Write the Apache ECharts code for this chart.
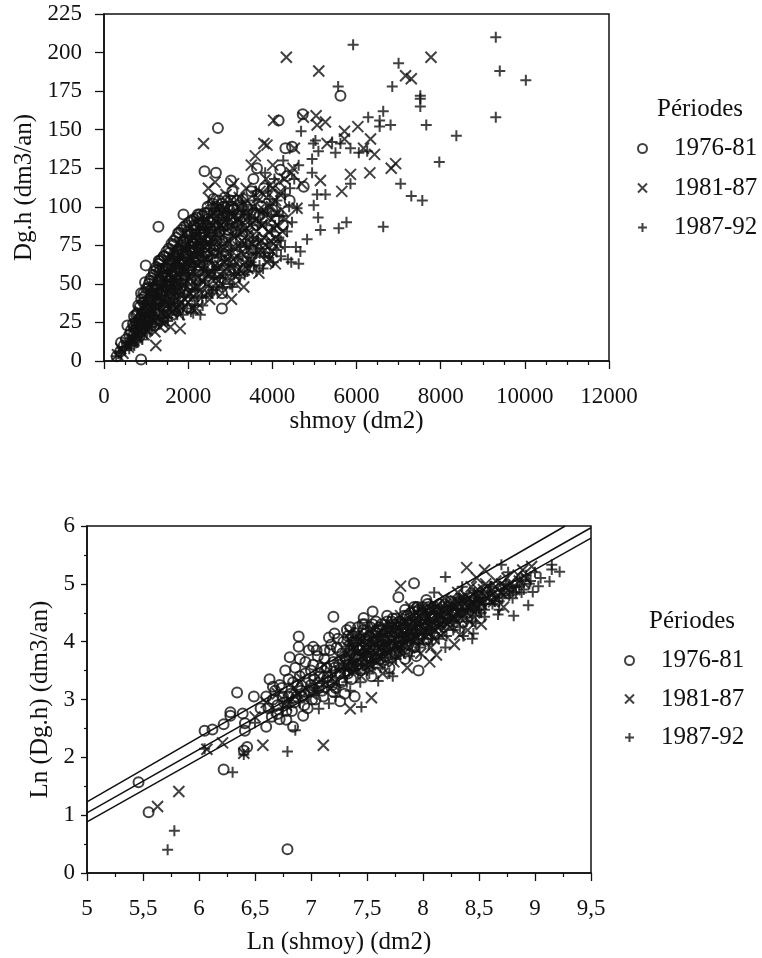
<!DOCTYPE html>
<html><head><meta charset="utf-8">
<style>html,body{margin:0;padding:0;background:#fff}#c{width:762px;height:958px}</style>
<script src="https://cdn.jsdelivr.net/npm/echarts@6/dist/echarts.min.js"></script></head>
<body><div id="c"></div>
<script>
const periods = ['1976-81','1981-87','1987-92'];
const top76 = [[881,1],[300,3],[380,6],[405,12],[470,10],[520,14],[555,23],[600,17],[640,20],[714,29],[700,22],[760,25],[790,31],[830,27],[881,44],[850,35],[900,30],[940,38],[976,51],[960,42],[992,62],[1010,33],[1040,47],[1060,40],[1090,52],[1120,36],[1150,44],[1180,56],[1238,59],[1210,48],[1250,39],[1293,87],[1300,65],[1333,65],[1340,52],[1370,45],[1400,60],[1430,68],[1460,55],[1500,48],[1548,70],[1530,62],[1570,41],[1600,58],[1640,75],[1680,66],[1720,52],[1762,83],[1750,60],[1790,72],[1820,47],[1850,64],[1888,95],[1880,78],[1920,56],[1950,70],[1990,84],[2020,62],[2060,50],[2100,76],[2140,88],[2180,68],[2230,95],[2270,95],[2250,58],[2300,80],[2388,123],[2350,90],[2400,70],[2450,96],[2500,62],[2550,84],[2660,122],[2600,105],[2707,151],[2650,75],[2802,34],[2802,44],[2750,92],[2850,100],[3017,117],[2900,68],[2950,85],[3050,110],[3100,60],[3150,95],[3250,78],[3357,60],[3300,105],[3400,88],[3550,118],[3635,125],[3500,72],[3700,95],[3800,112],[3900,70],[4000,98],[4190,124],[4150,156],[4310,138],[4469,139],[4412,104],[4722,160],[4746,113],[5619,172],[4350,120],[4250,88]];
const top76b = [[690,24],[715,18],[762,30],[748,20],[815,36],[830,24],[842,16],[885,40],[872,28],[938,44],[950,32],[930,22],[1004,47],[990,36],[1012,25],[1065,50],[1052,39],[1070,28],[1118,54],[1130,42],[1110,31],[1184,58],[1172,46],[1190,34],[1243,61],[1235,49],[1250,37],[1302,63],[1295,52],[1310,40],[1288,30],[1364,66],[1352,55],[1370,43],[1417,68],[1425,58],[1410,46],[1432,36],[1484,71],[1476,60],[1490,49],[1538,73],[1546,63],[1530,52],[1552,40],[1603,76],[1595,66],[1610,55],[1590,44],[1662,78],[1655,69],[1670,58],[1718,80],[1727,71],[1712,61],[1730,47],[1785,83],[1775,73],[1792,63],[1770,50],[1836,85],[1845,75],[1830,66],[1850,53],[1905,87],[1895,77],[1912,68],[1890,56],[1958,88],[1967,79],[1950,70],[1972,58],[2024,90],[2014,81],[2030,72],[2010,60],[2083,91],[2075,83],[2090,74],[2070,62],[2138,92],[2147,85],[2130,76],[2152,64],[2205,93],[2196,86],[2212,78],[2190,66],[2262,90],[2270,82],[2255,72],[2277,62],[2330,94],[2320,86],[2338,76],[2316,68],[2395,96],[2385,84],[2402,74],[2462,100],[2452,88],[2470,78],[2448,68],[2525,98],[2515,90],[2532,80],[2590,102],[2600,92],[2582,82],[2606,72],[2662,100],[2652,88],[2670,78],[2730,104],[2722,94],[2738,84],[2800,102],[2792,90],[2808,78],[2870,106],[2862,94],[2935,100],[2928,88],[3010,104],[3002,92],[3080,98],[3160,104],[3230,92]];
const top76c = [[900,24],[960,28],[1020,34],[1080,26],[1130,46],[1190,42],[1260,44],[1320,58],[1380,50],[1440,54],[1510,56],[1570,52],[1630,62],[1690,50],[1750,68],[1810,60],[1870,70],[1930,74],[1990,66],[2050,78],[2110,70],[2170,82],[2230,74],[2290,88],[2350,82],[2410,78],[2470,92],[2540,86],[2610,96],[2680,94],[2760,98],[2830,88],[2900,96],[2980,98],[3060,100],[3130,84],[3200,94],[3270,100],[3340,92],[3420,98],[3500,110],[3570,96],[3650,108],[3730,100]];
const top81 = [[320,4],[400,8],[450,5],[520,11],[580,9],[620,15],[680,13],[730,19],[780,16],[820,24],[870,20],[910,28],[950,17],[1000,32],[1030,23],[1080,37],[1120,28],[1170,43],[1210,19],[1231,10],[1260,34],[1310,48],[1350,26],[1400,40],[1450,54],[1480,31],[1530,46],[1580,22],[1620,60],[1660,36],[1700,51],[1750,66],[1810,21],[1790,30],[1850,44],[1900,58],[1950,72],[2000,38],[2050,53],[2100,65],[2150,80],[2200,34],[2250,48],[2300,60],[2365,141],[2370,74],[2420,90],[2470,44],[2480,112],[2520,105],[2560,58],[2600,70],[2640,116],[2700,85],[2720,98],[2780,50],[2850,64],[2900,108],[2950,78],[3000,92],[3030,40],[3080,115],[3120,55],[3160,86],[3200,100],[3260,70],[3320,48],[3380,112],[3420,60],[3470,95],[3500,127],[3540,76],[3595,133],[3650,106],[3680,57],[3750,88],[3800,141],[3850,118],[3873,140],[3920,66],[3980,100],[4010,127],[4071,63],[3992,71],[4080,80],[4333,197],[5103,188],[7770,197],[7167,185],[7302,183],[5040,159],[4738,158],[5262,155],[5064,153],[6032,152],[5714,149],[5714,144],[4031,156],[6333,144],[5302,141],[4524,138],[6167,138],[6429,134],[6929,128],[6825,125],[6317,122],[5857,121],[5143,117],[5650,110],[4492,125],[4200,110],[4320,92],[4450,122],[4587,99],[4700,115]];
const top81b = [[650,12],[700,14],[730,24],[770,18],[800,28],[840,20],[860,32],[905,22],[925,36],[970,26],[985,40],[1025,20],[1045,30],[1075,44],[1100,24],[1125,34],[1145,48],[1190,26],[1205,38],[1225,52],[1270,28],[1285,42],[1300,56],[1330,22],[1355,32],[1375,46],[1395,60],[1435,26],[1455,38],[1470,50],[1500,64],[1525,30],[1545,42],[1565,56],[1585,68],[1620,32],[1640,46],[1660,60],[1690,72],[1720,34],[1740,50],[1765,64],[1800,76],[1815,38],[1840,54],[1865,68],[1885,82],[1920,40],[1945,58],[1965,74],[1985,87],[2030,44],[2055,62],[2075,78],[2110,34],[2125,48],[2150,68],[2175,84],[2205,38],[2230,54],[2250,72],[2280,88],[2310,44],[2340,60],[2360,78],[2400,92],[2430,50],[2450,66],[2475,84],[2510,40],[2535,56],[2555,74],[2580,96],[2620,46],[2640,62],[2665,82],[2690,100],[2725,52],[2750,70],[2775,88],[2810,44],[2835,58],[2860,76],[2885,98],[2920,52],[2945,66],[2970,86],[3010,104],[3040,60],[3065,74],[3095,94],[3130,50],[3155,68],[3185,84],[3215,106],[3250,58],[3280,78],[3310,96],[3345,64],[3375,86],[3405,104],[3445,72],[3475,88],[3515,64],[3545,100],[3585,80],[3625,92],[3665,70],[3705,110],[3745,78],[3785,98],[3825,72],[3865,106],[3905,84],[3945,114],[3985,92],[4030,76],[4075,104],[4120,88],[4170,116],[4220,98]];
const top81c = [[1420,24],[1480,38],[1540,34],[1590,50],[1640,38],[1700,44],[1710,66],[1760,56],[1780,40],[1830,62],[1860,34],[1910,50],[1960,64],[1990,42],[2040,68],[2080,56],[2130,42],[2160,76],[2210,48],[2240,62],[2290,70],[2330,52],[2370,84],[2410,60],[2440,76],[2490,56],[2520,70],[2560,88],[2600,52],[2640,68],[2680,58],[2710,78],[2750,62],[2790,96],[2840,72],[2870,86],[2900,60],[2930,76],[2980,70],[3030,88],[3070,66],[3110,80],[3150,58],[3190,74],[3220,92],[3270,84],[3310,62],[3350,76],[3390,96],[3430,82],[3470,64],[3510,76],[3540,90],[3590,70],[3630,84],[3680,98],[3720,72],[3760,88],[3800,80],[3840,94],[3880,64],[3920,100],[3960,78],[4000,112],[4040,86],[4090,96],[4140,76],[4190,108],[4240,84],[4290,118]];
const top87 = [[290,3],[360,5],[430,9],[500,7],[570,12],[640,10],[700,16],[760,14],[830,21],[880,18],[940,25],[1000,22],[1060,30],[1110,26],[1170,34],[1230,29],[1290,40],[1340,24],[1400,35],[1470,45],[1520,28],[1570,38],[1640,52],[1700,32],[1760,44],[1830,57],[1880,36],[1940,49],[2010,63],[2060,42],[2120,31],[2170,56],[2240,70],[2290,30],[2330,41],[2400,52],[2460,66],[2520,78],[2580,46],[2640,59],[2700,72],[2760,86],[2830,54],[2880,66],[2940,96],[3000,80],[3050,48],[3110,62],[3170,90],[3230,74],[3290,104],[3340,56],[3400,84],[3440,70],[3500,98],[3560,62],[3610,110],[3660,78],[3620,58],[3720,90],[3780,60],[3830,122],[3880,76],[3940,105],[3990,84],[4050,118],[4100,72],[4160,94],[4200,78],[4260,130],[4300,108],[4350,84],[4400,100],[4450,64],[4520,118],[4560,74],[9310,210],[5920,205],[9405,188],[10024,182],[7000,193],[6850,178],[5564,178],[7516,172],[7516,170],[7516,165],[9310,158],[6635,162],[6278,158],[6550,156],[6550,152],[6810,153],[7658,153],[8373,146],[4683,149],[7968,129],[7048,115],[7302,107],[7564,104],[6635,87],[5762,90],[5579,86],[5143,85],[5088,93],[4826,79],[4984,101],[5857,115],[5064,108],[5262,108],[4945,131],[4945,122],[5500,135],[5095,136],[4976,141],[5024,143],[5857,138],[6055,135],[6254,136],[5619,141],[5421,142],[4626,127],[4587,99],[4468,90],[4626,63],[4667,71]];
const top87b = [[600,8],[660,12],[720,10],[770,20],[800,12],[860,16],[910,14],[960,20],[1020,18],[1030,26],[1085,20],[1095,34],[1140,22],[1150,30],[1205,24],[1215,36],[1265,26],[1275,44],[1320,30],[1330,38],[1385,28],[1395,50],[1440,32],[1450,42],[1510,26],[1510,36],[1550,48],[1600,30],[1610,40],[1620,60],[1670,34],[1680,46],[1690,56],[1740,30],[1750,38],[1770,62],[1800,34],[1820,48],[1840,72],[1880,30],[1895,42],[1915,62],[1970,34],[1985,46],[2000,54],[2035,74],[2065,32],[2095,50],[2115,68],[2150,36],[2170,46],[2195,80],[2225,42],[2255,64],[2285,52],[2300,76],[2345,36],[2365,56],[2385,68],[2430,42],[2455,58],[2490,48],[2505,84],[2555,44],[2575,64],[2610,54],[2625,76],[2670,48],[2695,62],[2725,90],[2755,54],[2790,68],[2820,48],[2845,82],[2890,56],[2915,92],[2955,62],[2985,50],[3020,72],[3060,96],[3090,56],[3140,82],[3175,66],[3215,54],[3260,88],[3295,68],[3330,100],[3370,76],[3410,58],[3455,92],[3495,64],[3535,80],[3575,104],[3615,70],[3655,88],[3695,62],[3735,76],[3775,96],[3815,68],[3855,88],[3895,110],[3935,70],[3975,94],[4020,64],[4065,88],[4110,104],[4155,80],[4205,68],[4250,94],[4300,74],[4370,66],[4420,112]];
const bot76 = [[5.46,1.57],[5.55,1.05],[6.79,0.41],[6.22,1.79],[6.43,2.18],[6.4,2.12],[6.05,2.46],[6.12,2.48],[6.22,2.57],[6.28,2.78],[6.28,2.72],[6.34,3.12],[6.41,2.46],[6.41,2.59],[6.39,2.76],[6.49,3.05],[6.6,2.53],[6.63,3.35],[6.72,2.66],[6.78,2.65],[6.84,2.53],[6.89,4.09],[6.89,3.91],[6.77,3.5],[6.81,3.73],[6.93,2.72],[7.2,4.43],[7.21,4.14],[7.16,4.07],[7.02,3.91],[7.26,2.97],[7.39,3.05],[7.2,3.13],[7.47,4.41],[7.55,4.52],[7.92,5.01],[7.78,4.77],[7.96,3.5],[7.94,3.75],[8.03,4.72],[6.55,2.85],[6.6,3.05],[6.65,2.7],[6.68,3.15],[6.7,2.9],[6.72,3.25],[6.75,3.05],[6.78,2.8],[6.8,3.35],[6.82,3.1],[6.85,2.95],[6.86,3.55],[6.88,3.25],[6.9,3.7],[6.92,3.05],[6.95,3.45],[6.97,2.85],[6.98,3.85],[7,3.25],[7.02,3.6],[7.04,3.0],[7.06,3.75],[7.08,3.4],[7.1,3.15],[7.12,3.85],[7.14,3.55],[7.16,3.3],[7.18,3.95],[7.2,3.65],[7.22,3.2],[7.24,4.05],[7.26,3.45],[7.28,3.8],[7.3,3.1],[7.32,4.2],[7.34,3.6],[7.36,3.35],[7.38,4.0],[7.4,3.75],[7.42,4.25],[7.44,3.5],[7.46,3.9],[7.48,4.3],[7.5,3.65],[7.52,4.1],[7.54,3.4],[7.56,3.85],[7.58,4.35],[7.6,4.0],[7.62,3.7],[7.64,4.2],[7.66,3.9],[7.68,4.45],[7.7,3.55],[7.72,4.1],[7.74,4.3],[7.76,3.8],[7.8,4.0],[7.82,4.25],[7.84,3.7],[7.86,4.45],[7.88,4.1],[7.9,4.3],[7.92,3.9],[7.95,4.6],[7.98,4.2],[8,4.4],[8.03,4.05],[8.06,4.55],[8.1,4.3],[8.15,4.65],[8.2,4.4],[8.25,4.7]];
const bot76b = [[6.62,2.85],[6.66,3.0],[6.66,3.22],[6.7,2.75],[6.74,3.2],[6.76,2.95],[6.8,3.05],[6.83,2.8],[6.84,3.3],[6.87,3.05],[6.9,3.4],[6.91,3.15],[6.94,2.9],[6.95,3.65],[6.98,3.15],[7,3.5],[7.01,3.0],[7.03,3.35],[7.05,3.85],[7.07,3.2],[7.09,3.55],[7.11,3.05],[7.12,3.7],[7.15,3.4],[7.17,3.85],[7.19,3.25],[7.21,3.55],[7.23,3.9],[7.25,3.6],[7.27,3.3],[7.29,4.0],[7.31,3.7],[7.33,3.45],[7.33,4.1],[7.35,3.85],[7.37,3.55],[7.39,4.15],[7.41,3.9],[7.41,3.6],[7.43,4.05],[7.45,3.7],[7.47,4.2],[7.49,3.95],[7.51,3.75],[7.53,4.25],[7.55,4.0],[7.57,3.7],[7.59,4.2],[7.61,3.85],[7.63,4.3],[7.65,4.05],[7.67,3.75],[7.69,4.25],[7.71,3.95],[7.73,4.4],[7.75,4.15],[7.77,3.9],[7.79,4.35],[7.81,4.15],[7.83,4.45],[7.85,4.2],[7.87,3.95],[7.89,4.5],[7.91,4.2],[7.93,4.4],[7.97,4.05],[7.99,4.5],[8.02,4.3],[8.05,4.6],[8.08,4.4],[8.12,4.55],[8.17,4.35],[8.22,4.6],[8.28,4.5]];
const bot76c = [[7.35,4.25],[7.37,4.1],[7.4,4.0],[7.43,3.85],[7.46,4.3],[7.49,4.05],[7.52,3.9],[7.55,4.3],[7.58,4.15],[7.61,4.25],[7.64,3.95],[7.68,4.35],[7.72,4.35],[7.76,4.4],[7.8,4.3],[7.84,4.55],[7.88,4.4],[7.92,4.6],[7.96,4.55],[8,4.6],[8.04,4.65],[8.1,4.6]];
const bot81 = [[5.63,1.15],[5.82,1.41],[6.07,2.14],[6.21,2.25],[6.4,2.07],[6.57,2.21],[7.11,2.21],[7.35,2.84],[7.54,3.03],[8.39,5.28],[8.55,5.24],[7.8,4.96],[8.12,3.77],[8.06,3.65],[8.33,4.12],[8.63,4.69],[8.97,5.3],[8.89,5.24],[6.5,2.7],[6.6,2.95],[6.7,3.1],[6.78,2.9],[6.85,3.2],[6.92,3.35],[7,3.1],[7.06,3.4],[7.12,3.6],[7.18,3.2],[7.24,3.75],[7.28,3.45],[7.33,3.9],[7.37,3.6],[7.41,4.1],[7.45,3.4],[7.49,3.85],[7.52,3.6],[7.56,4.2],[7.6,3.75],[7.64,3.45],[7.67,4.05],[7.7,4.3],[7.74,3.65],[7.77,3.95],[7.8,4.45],[7.83,4.15],[7.86,3.55],[7.89,4.6],[7.92,4.0],[7.95,4.3],[7.98,3.8],[8.01,4.5],[8.04,4.15],[8.07,3.9],[8.1,4.65],[8.13,4.4],[8.16,4.1],[8.19,4.75],[8.22,4.3],[8.25,4.55],[8.28,3.95],[8.31,4.85],[8.34,4.4],[8.37,4.65],[8.4,4.2],[8.43,4.95],[8.46,4.5],[8.49,4.75],[8.52,4.3],[8.56,5],[8.6,4.7],[8.65,5.05],[8.7,4.85],[8.75,5.1],[8.8,4.9],[8.85,5.15],[8.9,5.02],[8.72,4.6],[8.48,5.1]];
const bot81b = [[7.3,3.55],[7.32,3.8],[7.34,4.05],[7.36,3.7],[7.38,3.9],[7.4,3.55],[7.42,4.0],[7.44,3.75],[7.46,4.1],[7.48,3.6],[7.5,3.95],[7.52,4.2],[7.54,3.7],[7.56,4.0],[7.58,3.8],[7.6,4.15],[7.62,3.9],[7.64,4.05],[7.66,3.75],[7.68,4.2],[7.7,3.85],[7.72,4.0],[7.74,4.15],[7.76,3.95],[7.78,4.25],[7.8,3.8],[7.82,4.05],[7.84,4.35],[7.86,4.1],[7.88,3.9],[7.9,4.25],[7.92,4.45],[7.94,4.1],[7.96,4.35],[7.98,4.0],[8,4.2],[8.02,4.55],[8.04,4.4],[8.06,4.15],[8.08,4.35],[8.1,4.05],[8.12,4.6],[8.14,4.25],[8.16,4.45],[8.18,4.15],[8.2,4.65],[8.22,4.5],[8.24,4.25],[8.26,4.7],[8.28,4.4],[8.3,4.6],[8.32,4.3],[8.34,4.75],[8.36,4.5],[8.38,4.8],[8.4,4.6],[8.42,4.35],[8.44,4.7],[8.46,4.85],[8.48,4.55],[8.5,4.8],[8.52,4.65],[8.54,4.9],[8.58,4.75],[8.62,4.9],[8.66,4.75],[8.7,5.0],[8.74,4.85],[8.78,5.0],[8.82,4.9],[8.86,5.05],[8.92,5.1],[6.8,3.0],[6.88,3.1],[6.95,3.2],[7.02,3.3],[7.08,3.2],[7.14,3.45],[7.2,3.4],[7.26,3.6]];
const bot81c = [[7.31,3.6],[7.33,3.7],[7.35,4.15],[7.37,3.95],[7.39,3.6],[7.41,3.8],[7.43,3.6],[7.45,4.0],[7.47,3.75],[7.49,4.1],[7.51,3.85],[7.53,3.6],[7.55,3.85],[7.57,4.1],[7.59,3.65],[7.61,4.05],[7.63,3.75],[7.65,4.25],[7.67,3.95],[7.69,3.8],[7.71,4.2],[7.73,3.85],[7.75,4.05],[7.77,4.25],[7.79,3.9],[7.81,4.3],[7.83,3.95],[7.85,4.05],[7.87,4.3],[7.89,4.05],[7.91,4.35],[7.93,4.05],[7.95,4.2],[7.97,4.45],[7.99,4.15],[8.01,4.35],[8.03,4.1],[8.05,4.45],[8.07,4.25],[8.09,4.55],[8.11,4.2],[8.13,4.5],[8.15,4.3],[8.17,4.55],[8.19,4.35],[8.21,4.55],[8.23,4.35],[8.25,4.65],[8.27,4.45],[8.29,4.7],[8.31,4.5],[8.33,4.65],[8.35,4.45],[8.37,4.75],[8.39,4.5],[8.41,4.75],[8.43,4.6],[8.45,4.8],[8.47,4.6],[8.49,4.9],[8.51,4.7],[8.55,4.8],[8.57,4.95],[8.61,4.8],[8.65,4.95],[8.69,4.85],[8.73,4.95],[8.77,4.9]];
const bot87 = [[5.72,0.4],[5.78,0.73],[6.3,1.74],[6.79,2.1],[6.4,2.05],[6.86,2.47],[7.07,2.84],[7.16,2.93],[7.45,2.87],[7.6,3.32],[7.7,3.45],[7.73,3.4],[8.7,5.33],[8.2,5.12],[9.15,5.33],[9.22,5.21],[9.13,5.04],[9.03,4.96],[8.98,4.86],[8.94,4.63],[8.81,4.45],[8.67,4.47],[8.55,4.43],[8.47,4.32],[8.45,4.14],[8.44,4.05],[6.05,2.15],[6.5,2.6],[6.65,2.8],[6.9,2.95],[7.05,3.15],[7.15,3.3],[7.22,3.05],[7.3,3.4],[7.35,3.15],[7.4,3.6],[7.44,3.3],[7.48,3.8],[7.52,3.45],[7.56,3.65],[7.6,3.95],[7.64,3.6],[7.68,3.8],[7.72,4.15],[7.76,3.7],[7.8,3.9],[7.84,4.3],[7.88,3.75],[7.92,4.15],[7.96,3.95],[8,4.55],[8.04,4.3],[8.08,4.05],[8.12,4.5],[8.16,4.25],[8.2,3.9],[8.24,4.6],[8.28,4.35],[8.32,4.75],[8.36,4.1],[8.4,4.55],[8.44,4.35],[8.48,4.75],[8.52,4.5],[8.56,4.65],[8.6,4.95],[8.64,4.7],[8.68,4.55],[8.72,4.9],[8.76,5.2],[8.8,4.75],[8.84,5.05],[8.88,4.85],[8.92,5.15],[8.96,5.05],[9,5.2],[9.05,5.1],[9.15,5.25],[8.1,4.85],[7.95,4.6],[8.35,4.95]];
const bot87b = [[7.25,3.25],[7.29,3.55],[7.32,3.3],[7.36,3.5],[7.39,3.7],[7.42,3.45],[7.46,3.6],[7.5,3.5],[7.53,3.8],[7.55,3.55],[7.58,3.7],[7.62,3.55],[7.65,3.85],[7.69,3.65],[7.71,3.95],[7.75,3.75],[7.78,3.85],[7.81,4.0],[7.83,3.8],[7.86,4.0],[7.9,3.85],[7.94,4.2],[7.97,3.9],[8,4.05],[8.03,4.25],[8.05,3.95],[8.08,4.2],[8.11,4.35],[8.14,4.05],[8.18,4.3],[8.21,4.1],[8.24,4.4],[8.27,4.2],[8.3,4.45],[8.33,4.25],[8.36,4.55],[8.39,4.35],[8.42,4.5],[8.45,4.6],[8.47,4.45],[8.5,4.55],[8.53,4.75],[8.55,4.55],[8.58,4.85],[8.62,4.65],[8.64,4.8],[8.68,4.7],[8.71,4.75],[8.74,5],[8.77,4.8],[8.8,4.95],[8.83,4.85],[8.86,4.95],[8.9,4.9],[8.95,5],[6.75,2.85],[6.82,2.95],[6.9,3.05],[6.98,3.05],[7.03,3.2],[7.1,3.3],[7.18,3.4],[7.22,3.5],[7.34,3.95],[7.44,4.1],[7.54,4.1],[7.66,4.15],[7.76,4.25],[7.86,4.3],[7.96,4.5],[8.06,4.5],[8.16,4.6],[8.26,4.55],[8.36,4.75],[8.46,4.7]];
const bot87c = [[7.3,3.75],[7.34,3.5],[7.38,3.8],[7.42,3.85],[7.46,3.85],[7.5,3.75],[7.54,3.95],[7.58,4.0],[7.62,4.1],[7.66,3.95],[7.7,4.1],[7.74,4.0],[7.78,4.1],[7.82,4.15],[7.86,4.15],[7.9,4.1],[7.94,4.35],[7.98,4.3],[8.02,4.45],[8.06,4.35],[8.1,4.15],[8.14,4.4],[8.18,4.45],[8.22,4.4],[8.26,4.35],[8.3,4.55],[8.34,4.55],[8.38,4.65],[8.42,4.7],[8.46,4.85],[8.5,4.7],[8.54,4.65]];
const lineUpper = [[5,1.23],[9.27,6]];
const lineMiddle = [[5,1.04],[9.5,5.97]];
const lineLower = [[5,0.885],[9.5,5.79]];

const ink = '#111';
const font = 'Liberation Serif';
const crossPath = 'path://M0,0L11,11M11,0L0,11';
const plusPath = 'path://M5.5,0L5.5,11M0,5.5L11,5.5';
const stroke = {color:'transparent',borderColor:ink,borderWidth:2};
function scatter(name,data,symbol,size,idx){
  return {type:'scatter',name,data,symbol,symbolSize:size,xAxisIndex:idx,yAxisIndex:idx,itemStyle:stroke,silent:true,animation:false,large:false};
}
function rule(data){
  return {type:'line',data,xAxisIndex:1,yAxisIndex:1,showSymbol:false,silent:true,animation:false,lineStyle:{color:ink,width:1.5}};
}
function axis(o){
  const margin = o.margin, tl = o.tickLen || 8, fmt = o.fmt;
  delete o.margin; delete o.tickLen; delete o.fmt;
  return Object.assign({
    type:'value',nameLocation:'middle',
    nameTextStyle:{fontFamily:font,fontSize:25,color:ink},
    axisLine:{show:true,onZero:false,lineStyle:{color:ink,width:1.6}},
    axisTick:{show:true,length:tl,lineStyle:{color:ink,width:1.3}},
    axisLabel:{fontFamily:font,fontSize:23,color:ink,margin,formatter:fmt,showMinLabel:true,showMaxLabel:true},
    splitLine:{show:false}
  },o);
}
function minor(n,len){return {show:true,splitNumber:n,length:len,lineStyle:{color:ink,width:1.2}};}
const comma = v => String(v).replace('.',',');
const plain = v => String(v);
function legend(left,top,gap){
  return {left,top,orient:'vertical',itemGap:gap,itemWidth:9,itemHeight:9,selectedMode:false,
    textStyle:{fontFamily:font,fontSize:25,color:ink,padding:[0,0,0,22],lineHeight:25},
    data:[{name:periods[0],icon:'circle'},{name:periods[1],icon:crossPath},{name:periods[2],icon:plusPath}]};
}
const chart = echarts.init(document.getElementById('c'),null,{renderer:'canvas'});
chart.setOption({
  backgroundColor:'#fff',animation:false,
  title:[
    {text:'Périodes',left:652,top:92,textStyle:{fontFamily:font,fontSize:25,fontWeight:'normal',color:ink}},
    {text:'Périodes',left:644,top:604,textStyle:{fontFamily:font,fontSize:25,fontWeight:'normal',color:ink}}
  ],
  legend:[legend(632,131,14.5),legend(619,643,13.5)],
  grid:[
    {left:104,top:14,width:505,height:347,show:true,borderColor:ink,borderWidth:1.5,backgroundColor:'transparent'},
    {left:87,top:526,width:504,height:347,show:true,borderColor:ink,borderWidth:1.5,backgroundColor:'transparent'}
  ],
  xAxis:[
    axis({gridIndex:0,min:0,max:12000,interval:2000,name:'shmoy (dm2)',nameGap:47,margin:24,fmt:plain,minorTick:minor(4,4)}),
    axis({gridIndex:1,min:5,max:9.5,interval:0.5,name:'Ln (shmoy) (dm2)',nameGap:57,margin:24,fmt:comma,minorTick:minor(2,4)})
  ],
  yAxis:[
    axis({gridIndex:0,min:0,max:225,interval:25,name:'Dg.h (dm3/an)',nameGap:66,margin:22,tickLen:9,fmt:plain}),
    axis({gridIndex:1,min:0,max:6,interval:1,name:'Ln (Dg.h) (dm3/an)',nameGap:34,margin:12,tickLen:6,fmt:plain,minorTick:minor(2,3)})
  ],
  series:[
    scatter(periods[0],top76.concat(top76b,top76c),'circle',10,0),
    scatter(periods[1],top81.concat(top81b,top81c),crossPath,11,0),
    scatter(periods[2],top87.concat(top87b),plusPath,11,0),
    scatter(periods[0],bot76.concat(bot76b,bot76c),'circle',10,1),
    scatter(periods[1],bot81.concat(bot81b,bot81c),crossPath,11,1),
    scatter(periods[2],bot87.concat(bot87b,bot87c),plusPath,11,1),
    rule(lineUpper),rule(lineMiddle),rule(lineLower)
  ]
});
</script></body></html>
